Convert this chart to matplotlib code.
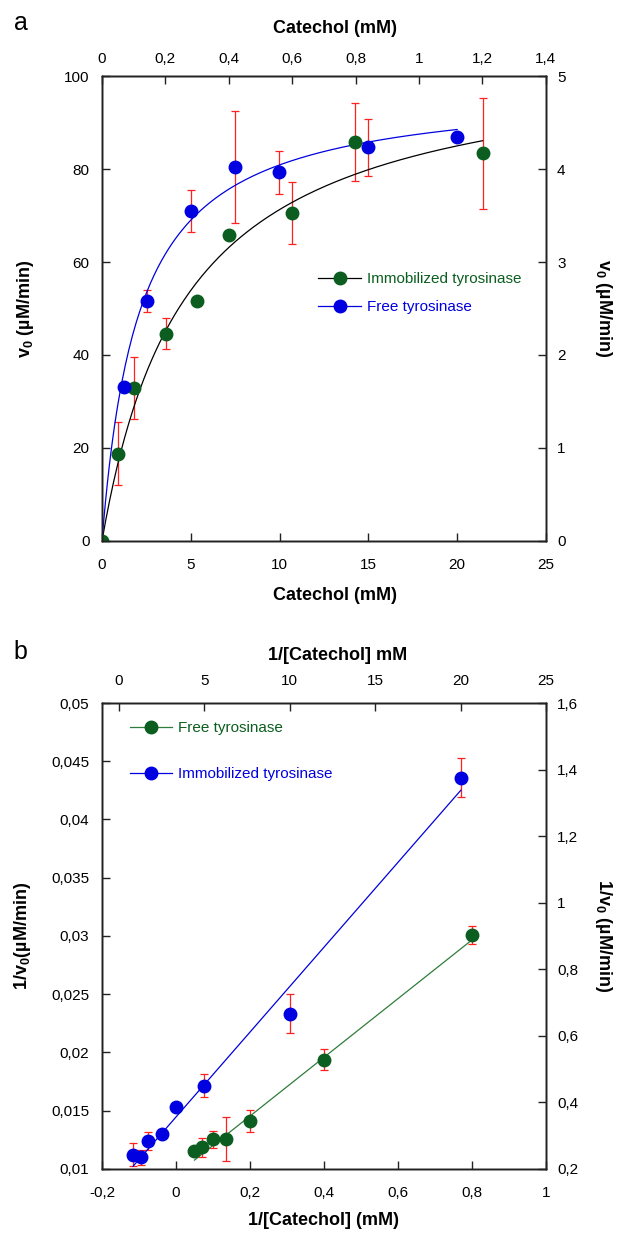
import numpy as np
import matplotlib
matplotlib.use('Agg')
import matplotlib.pyplot as plt
from matplotlib.ticker import FuncFormatter
from matplotlib.lines import Line2D

plt.rcParams['font.family'] = ['Liberation Sans', 'DejaVu Sans']
plt.rcParams['mathtext.fontset'] = 'custom'
plt.rcParams['mathtext.bf'] = 'Liberation Sans:bold'
plt.rcParams['mathtext.rm'] = 'Liberation Sans'
plt.rcParams['mathtext.default'] = 'bf'

# panel a: Michaelis-Menten data
imm_x = [0, 0.92, 1.78, 3.59, 5.35, 7.15, 10.7, 14.27, 21.43]
imm_v = [0, 18.8, 32.9, 44.6, 51.7, 65.8, 70.5, 85.8, 83.4]
imm_err = [0, 6.7, 6.6, 3.3, 0, 0, 6.6, 8.4, 11.9]
free_x = [1.24, 2.52, 5.0, 7.49, 9.99, 15.0, 20.0]
free_v = [33.2, 51.6, 70.9, 80.4, 79.3, 84.7, 86.8]
free_err = [0, 2.4, 4.5, 12.0, 4.6, 6.1, 0]
# fitted curves (Vmax, Km, last x)
imm_fit = (105.2, 4.76, 21.43)
free_fit = (97.7, 2.08, 20.0)

# panel b: Lineweaver-Burk data
lb_free_x = [0.05, 0.069, 0.100, 0.134, 0.200, 0.400, 0.800]
lb_free_y = [0.01154, 0.01186, 0.01257, 0.01257, 0.01411, 0.01937, 0.03009]
lb_free_err = [0, 0.00083, 0.00073, 0.00187, 0.00091, 0.00089, 0.00081]
lb_imm_x = [-0.116, -0.095, -0.0755, -0.038, 0.0, 0.0767, 0.308, 0.770]
lb_imm_y = [0.01123, 0.0110, 0.01243, 0.0130, 0.01534, 0.01714, 0.02334, 0.0436]
lb_imm_err = [0.00097, 0.00063, 0.00077, 0, 0, 0.00097, 0.0017, 0.00169]
# regression lines (slope, intercept, x start, x end)
lb_free_fit = (0.0252, 0.0095, 0.05, 0.80)
lb_imm_fit = (0.03643, 0.01446, -0.116, 0.77)

GREEN = '#0b5e1f'
GREEN_LINE = '#2f7d3a'
BLUE = '#0000e0'
RED = '#ff2020'

comma = FuncFormatter(lambda v, p: ('%g' % v).replace('.', ','))
TICK = 11
LAB = 13


def style(ax, pad=9):
    ax.tick_params(direction='in', length=6, width=1, labelsize=TICK, pad=pad,
                   colors='#222222', labelcolor='black')
    for s in ax.spines.values():
        s.set_linewidth(1.0)
        s.set_color('#222222')


fig = plt.figure(figsize=(6.2, 12.34), dpi=100)

# ---------------- panel a ----------------
ax = fig.add_axes([0.1645, 0.5616, 0.716, 0.3768])
ax.errorbar(imm_x, imm_v, yerr=imm_err, fmt='none', ecolor=RED, elinewidth=0.9,
            capsize=3, capthick=0.9, zorder=2)
ax.errorbar(free_x, free_v, yerr=free_err, fmt='none', ecolor=RED, elinewidth=0.9,
            capsize=3, capthick=0.9, zorder=2)
for (vm, km, xe), c in [(imm_fit, 'black'), (free_fit, BLUE)]:
    xs = np.linspace(0, xe, 200)
    ax.plot(xs, vm * xs / (km + xs), color=c, lw=0.9, zorder=3)
ax.plot(imm_x, imm_v, 'o', color=GREEN, ms=9, mec=GREEN, zorder=4)
ax.plot(free_x, free_v, 'o', color=BLUE, ms=9, mec=BLUE, zorder=5)
ax.set_xlim(0, 25)
ax.set_ylim(0, 100)
ax.set_xticks([0, 5, 10, 15, 20, 25])
ax.set_yticks([0, 20, 40, 60, 80, 100])
ax.xaxis.set_major_formatter(comma)
style(ax)
ax.tick_params(axis='x', pad=12)
ax.set_xlabel('Catechol (mM)', fontsize=LAB, fontweight='bold', labelpad=11, x=0.525)
ax.set_ylabel(r'v$_0$ (µM/min)', fontsize=LAB, fontweight='bold', labelpad=20)

top = ax.twiny()
top.set_xlim(0, 1.4)
top.set_xticks([0, 0.2, 0.4, 0.6, 0.8, 1.0, 1.2, 1.4])
top.xaxis.set_major_formatter(comma)
style(top, pad=7)
top.set_xlabel('Catechol (mM)', fontsize=LAB, fontweight='bold', labelpad=14, x=0.525)
right = ax.twinx()
right.set_ylim(0, 5)
right.set_yticks([0, 1, 2, 3, 4, 5])
style(right, pad=8)
right.set_ylabel(r'v$_0$ (µM/min)', fontsize=LAB, fontweight='bold',
                 rotation=270, va='bottom', labelpad=20)

h = [Line2D([], [], color='black', lw=0.9, marker='o', ms=9, mfc=GREEN, mec=GREEN),
     Line2D([], [], color=BLUE, lw=0.9, marker='o', ms=9, mfc=BLUE, mec=BLUE)]
ax.legend(h, ['Immobilized tyrosinase', 'Free tyrosinase'], frameon=False,
          loc='upper left', bbox_to_anchor=(0.47, 0.595), fontsize=11,
          handlelength=2.8, handletextpad=0.4, labelspacing=0.95,
          borderpad=0, labelcolor=[GREEN, BLUE])
fig.text(0.022, 0.981, 'a', fontsize=18, va='center')

# ---------------- panel b ----------------
bx = fig.add_axes([0.1645, 0.0527, 0.716, 0.3776])
bx.errorbar(lb_free_x, lb_free_y, yerr=lb_free_err, fmt='none', ecolor=RED,
            elinewidth=0.9, capsize=3, capthick=0.9, zorder=2)
bx.errorbar(lb_imm_x, lb_imm_y, yerr=lb_imm_err, fmt='none', ecolor=RED,
            elinewidth=0.9, capsize=3, capthick=0.9, zorder=2)
for (k, b0, x0, x1), c in [(lb_free_fit, GREEN_LINE), (lb_imm_fit, BLUE)]:
    xs = np.array([x0, x1])
    bx.plot(xs, k * xs + b0, color=c, lw=0.9, zorder=3)
bx.plot(lb_free_x, lb_free_y, 'o', color=GREEN, ms=9, mec=GREEN, zorder=4)
bx.plot(lb_imm_x, lb_imm_y, 'o', color=BLUE, ms=9, mec=BLUE, zorder=4)
bx.set_xlim(-0.2, 1.0)
bx.set_ylim(0.01, 0.05)
bx.set_xticks([-0.2, 0, 0.2, 0.4, 0.6, 0.8, 1.0])
bx.set_yticks([0.01, 0.015, 0.02, 0.025, 0.03, 0.035, 0.04, 0.045, 0.05])
bx.xaxis.set_major_formatter(comma)
bx.yaxis.set_major_formatter(comma)
style(bx)
bx.tick_params(axis='x', pad=12)
bx.set_xlabel('1/[Catechol] (mM)', fontsize=LAB, fontweight='bold', labelpad=9)
bx.set_ylabel(r'1/v$_0$(µM/min)', fontsize=LAB, fontweight='bold', labelpad=13)

btop = bx.twiny()
btop.set_xlim(-1, 25)
btop.set_xticks([0, 5, 10, 15, 20, 25])
style(btop, pad=11)
btop.set_xlabel('1/[Catechol] mM', fontsize=LAB, fontweight='bold', labelpad=10, x=0.53)
bright = bx.twinx()
bright.set_ylim(0.2, 1.6)
bright.set_yticks([0.2, 0.4, 0.6, 0.8, 1.0, 1.2, 1.4, 1.6])
bright.yaxis.set_major_formatter(comma)
style(bright, pad=8)
bright.set_ylabel(r'1/v$_0$ (µM/min)', fontsize=LAB, fontweight='bold',
                  rotation=270, va='bottom', labelpad=11)

h2 = [Line2D([], [], color=GREEN_LINE, lw=0.9, marker='o', ms=9, mfc=GREEN, mec=GREEN),
      Line2D([], [], color=BLUE, lw=0.9, marker='o', ms=9, mfc=BLUE, mec=BLUE)]
bx.legend(h2, ['Free tyrosinase', 'Immobilized tyrosinase'], frameon=False,
          loc='upper left', bbox_to_anchor=(0.045, 0.977), fontsize=11,
          handlelength=2.8, handletextpad=0.4, labelspacing=2.1,
          borderpad=0, labelcolor=[GREEN, BLUE])
fig.text(0.022, 0.4716, 'b', fontsize=18, va='center')

fig.savefig('out.png', dpi=100)
